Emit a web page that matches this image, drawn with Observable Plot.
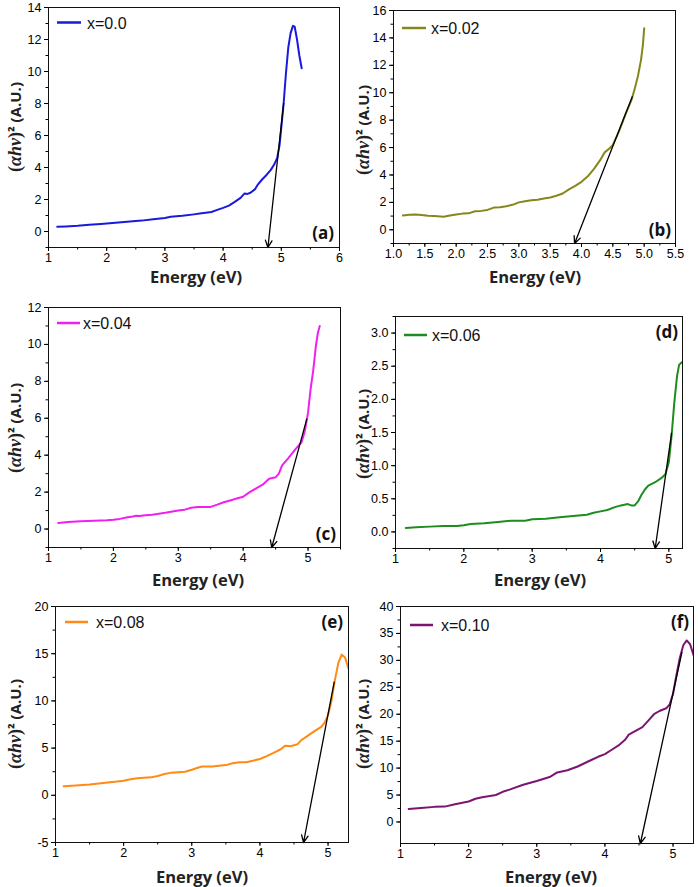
<!DOCTYPE html>
<html><head><meta charset="utf-8">
<script src="https://cdn.jsdelivr.net/npm/d3@7"></script>
<script src="https://cdn.jsdelivr.net/npm/@observablehq/plot@0.6"></script>
<style>
body{margin:0;background:#fff}
#chart{position:relative;width:698px;height:887px;overflow:hidden;background:#fff}
#chart svg{position:absolute;left:0;top:0}
</style>
</head><body><div id="chart"></div>
<script>
// ---- data: [energy eV, (αhν)^2] ----
const seriesA = [[1.15,0.30],[1.3,0.32],[1.5,0.36],[1.7,0.42],[1.9,0.47],[2.0,0.50],[2.2,0.57],[2.4,0.63],[2.6,0.68],[2.8,0.76],[3.0,0.85],[3.1,0.92],[3.3,0.98],[3.5,1.07],[3.6,1.12],[3.8,1.22],[3.9,1.35],[4.0,1.48],[4.1,1.62],[4.2,1.85],[4.3,2.10],[4.37,2.38],[4.42,2.35],[4.47,2.42],[4.55,2.65],[4.6,2.95],[4.67,3.25],[4.75,3.55],[4.82,3.85],[4.88,4.2],[4.93,4.6],[4.97,5.4],[5.0,6.5],[5.04,8.0],[5.08,9.9],[5.12,11.5],[5.16,12.4],[5.2,12.85],[5.23,12.8],[5.27,12.0],[5.31,11.0],[5.35,10.2]];
const seriesB = [[1.15,1.05],[1.25,1.1],[1.35,1.12],[1.45,1.08],[1.55,1.02],[1.65,1.0],[1.75,0.97],[1.8,0.95],[1.9,1.05],[2.0,1.12],[2.1,1.18],[2.2,1.2],[2.3,1.35],[2.4,1.38],[2.5,1.45],[2.6,1.62],[2.7,1.65],[2.8,1.72],[2.9,1.82],[3.0,2.0],[3.1,2.08],[3.2,2.15],[3.3,2.2],[3.4,2.28],[3.5,2.35],[3.6,2.48],[3.7,2.65],[3.8,2.95],[3.9,3.2],[4.0,3.5],[4.1,3.9],[4.2,4.45],[4.3,5.1],[4.37,5.65],[4.45,5.95],[4.5,6.2],[4.6,7.2],[4.7,8.4],[4.8,9.5],[4.85,10.3],[4.9,11.2],[4.95,12.4],[4.98,13.5],[5.0,14.7]];
const seriesC = [[1.15,0.33],[1.3,0.38],[1.5,0.42],[1.7,0.45],[1.9,0.47],[2.0,0.5],[2.1,0.55],[2.2,0.62],[2.3,0.68],[2.35,0.72],[2.4,0.7],[2.5,0.75],[2.6,0.78],[2.8,0.88],[3.0,1.0],[3.1,1.05],[3.2,1.15],[3.3,1.2],[3.4,1.2],[3.5,1.2],[3.6,1.32],[3.7,1.45],[3.8,1.55],[3.9,1.65],[4.0,1.75],[4.1,2.0],[4.2,2.2],[4.3,2.4],[4.4,2.72],[4.5,2.8],[4.55,3.0],[4.6,3.45],[4.7,3.85],[4.8,4.3],[4.9,4.7],[4.95,5.3],[5.0,6.3],[5.04,7.6],[5.08,8.6],[5.12,9.9],[5.15,10.6],[5.18,11.0]];
const seriesD = [[1.15,0.06],[1.3,0.07],[1.5,0.08],[1.7,0.09],[1.9,0.09],[2.0,0.1],[2.1,0.12],[2.3,0.13],[2.5,0.15],[2.7,0.17],[2.9,0.17],[3.0,0.19],[3.2,0.2],[3.4,0.22],[3.6,0.24],[3.8,0.26],[3.9,0.29],[4.0,0.31],[4.1,0.33],[4.2,0.37],[4.3,0.4],[4.4,0.42],[4.45,0.4],[4.5,0.4],[4.55,0.46],[4.6,0.56],[4.65,0.64],[4.7,0.7],[4.8,0.75],[4.9,0.82],[4.95,0.87],[5.0,1.05],[5.04,1.45],[5.08,1.95],[5.12,2.35],[5.15,2.52],[5.19,2.56]];
const seriesE = [[1.12,0.95],[1.3,1.05],[1.5,1.15],[1.7,1.3],[1.9,1.45],[2.0,1.55],[2.1,1.7],[2.2,1.8],[2.4,1.9],[2.5,2.05],[2.6,2.25],[2.7,2.4],[2.9,2.5],[3.0,2.7],[3.1,2.95],[3.15,3.05],[3.3,3.05],[3.5,3.2],[3.6,3.4],[3.7,3.5],[3.8,3.5],[4.0,3.85],[4.1,4.15],[4.2,4.5],[4.3,4.85],[4.37,5.25],[4.45,5.2],[4.55,5.4],[4.6,5.8],[4.7,6.3],[4.8,6.8],[4.9,7.25],[4.95,7.7],[5.0,8.5],[5.05,10.0],[5.1,12.2],[5.15,14.0],[5.2,14.9],[5.25,14.6],[5.3,13.4]];
const seriesF = [[1.12,2.4],[1.3,2.6],[1.5,2.8],[1.65,2.85],[1.8,3.3],[2.0,3.8],[2.1,4.3],[2.2,4.6],[2.4,5.0],[2.5,5.6],[2.6,6.0],[2.8,6.9],[3.0,7.6],[3.2,8.4],[3.3,9.2],[3.45,9.6],[3.6,10.3],[3.7,10.9],[3.8,11.5],[3.9,12.1],[4.0,12.6],[4.1,13.4],[4.2,14.2],[4.3,15.3],[4.35,16.2],[4.45,16.9],[4.55,17.6],[4.65,19.0],[4.72,20.0],[4.8,20.6],[4.9,21.1],[4.95,21.8],[5.0,23.8],[5.05,27.3],[5.1,30.5],[5.15,32.8],[5.2,33.7],[5.25,33.0],[5.3,31.0]];

// tangent arrows: [x1, y1, x2 (band gap), y2]
const arrowA = [5.04, 8.0, 4.77, -1];
const arrowB = [4.81, 9.7, 3.89, -1];
const arrowC = [4.98, 5.95, 4.44, -1];
const arrowD = [5.04, 1.49, 4.80, -0.25];
const arrowE = [5.09, 12.0, 4.64, -5];
const arrowF = [5.13, 31.5, 4.52, -4];

const names = ["x=0.0","x=0.02","x=0.04","x=0.06","x=0.08","x=0.10"];
const letters = ["(a)","(b)","(c)","(d)","(e)","(f)"];
const colors = ["#1a1adb","#86861a","#f020f0","#1e8c1e","#ff8a14","#7a1672"];

const xTicksInt = [1,2,3,4,5,6];
const xTicksB = [1.0,1.5,2.0,2.5,3.0,3.5,4.0,4.5,5.0,5.5];
const yTicksA = [0,2,4,6,8,10,12,14];
const yTicksB = [0,2,4,6,8,10,12,14,16];
const yTicksC = [0,2,4,6,8,10,12];
const yTicksD = [0,0.5,1.0,1.5,2.0,2.5,3.0];
const yTicksE = [-5,0,5,10,15,20];
const yTicksF = [0,5,10,15,20,25,30,35,40];

// ---- layout ----
const W = 698, H = 887;
const panels = [
  {series: seriesA, arrow: arrowA, xdom:[1,6], ydom:[-1,14], xt: xTicksInt, xm: d3.range(1,6.01,0.5), yt: yTicksA, ym: d3.range(-1,14.01,1),
   frame:[48,339,7,247], xl:[196,283], yl:[21,127], leg:[57,81,22.5,87,29], let:[334,239]},
  {series: seriesB, arrow: arrowB, xdom:[1,5.5], ydom:[-1,16], xt: xTicksB, xm: d3.range(1,5.51,0.25), yt: yTicksB, ym: d3.range(-1,16.01,1), xf: d=>d.toFixed(1),
   frame:[393,675,10,243], xl:[535,283], yl:[369,130], leg:[402,426,28,431,34], let:[671,236]},
  {series: seriesC, arrow: arrowC, xdom:[1,5.5], ydom:[-1,12], xt: [1,2,3,4,5], xm: d3.range(1,5.51,0.5), yt: yTicksC, ym: d3.range(-1,12.01,1),
   frame:[48,340,307,547], xl:[198,586], yl:[21,428], leg:[57,80,323,83,329], let:[336,540]},
  {series: seriesD, arrow: arrowD, xdom:[1,5.2], ydom:[-0.25,3.25], xt: [1,2,3,4,5], xm: d3.range(1,5.21,0.5), yt: yTicksD, ym: d3.range(-0.25,3.26,0.25), yf: d=>d.toFixed(1),
   frame:[395,682,316,548], xl:[540,586], yl:[369,434], leg:[404,427,335,432,341], let:[678,338]},
  {series: seriesE, arrow: arrowE, xdom:[1,5.3], ydom:[-5,20], xt: [1,2,3,4,5], xm: d3.range(1,5.31,0.5), yt: yTicksE, ym: d3.range(-5,20.01,2.5),
   frame:[55,348,606,842], xl:[202,883], yl:[21,724], leg:[65,88,622,96,628], let:[343,628]},
  {series: seriesF, arrow: arrowF, xdom:[1,5.3], ydom:[-4,40], xt: [1,2,3,4,5], xm: d3.range(1,5.31,0.5), yt: yTicksF, ym: d3.range(0,40.01,2.5),
   frame:[400,693,606,843], xl:[551,883], yl:[369,724], leg:[410,433,625,441,631], let:[689,628]}
];

const chart = document.getElementById("chart");
panels.forEach((p, i) => {
  const [L,R,T,B] = p.frame;
  const data = p.series.map(([e,v]) => ({e, v}));
  const xf = p.xf || (d => String(d));
  const yf = p.yf || (d => String(d));
  const svg = Plot.plot({
    width: W, height: H,
    marginLeft: L, marginRight: W - R, marginTop: T, marginBottom: H - B,
    x: {domain: p.xdom, label: null},
    y: {domain: p.ydom, label: null},
    style: {background: "transparent", fontFamily: "'Liberation Sans', Arial, sans-serif", fontSize: "12.5px", color: "#000", overflow: "visible"},
    marks: [
      Plot.line(data, {x: "e", y: "v", stroke: colors[i], strokeWidth: 2, clip: true}),
      Plot.arrow([p.arrow], {x1: d => d[0], y1: d => d[1], x2: d => d[2], y2: d => d[3], stroke: "#000", strokeWidth: 1.3, headLength: 9, headAngle: 50}),
      Plot.frame({stroke: "#111", strokeWidth: 1}),
      Plot.axisX(p.xt, {tickSize: 4, tickPadding: 2, tickFormat: xf, label: null}),
      Plot.axisX(p.xm, {tickSize: 2.5, tickFormat: () => "", label: null}),
      Plot.axisY(p.yt, {tickSize: 4, tickPadding: 3, tickFormat: yf, label: null}),
      Plot.axisY(p.ym, {tickSize: 2.5, tickFormat: () => "", label: null})
    ]
  });
  const s = d3.select(svg);
  // x label
  s.append("text").attr("x", p.xl[0]).attr("y", p.xl[1]).attr("text-anchor", "middle")
    .attr("font-family", "'Open Sans', sans-serif").attr("font-weight", "bold").attr("font-size", 16.5)
    .attr("fill", "#222").text("Energy (eV)");
  // y label
  const yl = s.append("text").attr("transform", `translate(${p.yl[0]},${p.yl[1]}) rotate(-90)`)
    .attr("text-anchor", "middle").attr("fill", "#222").attr("font-weight", "bold");
  yl.append("tspan").attr("font-family", "'Liberation Serif', serif").attr("font-size", 18).text("(");
  yl.append("tspan").attr("font-family", "'Liberation Serif', serif").attr("font-size", 18).attr("font-style", "italic").text("αhv");
  yl.append("tspan").attr("font-family", "'Liberation Serif', serif").attr("font-size", 18).text(")");
  yl.append("tspan").attr("font-family", "'Open Sans', sans-serif").attr("font-size", 15).text("² (A.U.)");
  // legend
  s.append("line").attr("x1", p.leg[0]).attr("x2", p.leg[1]).attr("y1", p.leg[2]).attr("y2", p.leg[2])
    .attr("stroke", colors[i]).attr("stroke-width", 2.5);
  s.append("text").attr("x", p.leg[3]).attr("y", p.leg[4]).attr("text-anchor", "start")
    .attr("font-family", "'Liberation Sans', Arial, sans-serif").attr("font-size", 16).attr("fill", "#111").text(names[i]);
  // panel letter
  s.append("text").attr("x", p.let[0]).attr("y", p.let[1]).attr("text-anchor", "end")
    .attr("font-family", "'Open Sans', sans-serif").attr("font-weight", "bold").attr("font-size", 17)
    .attr("fill", "#111").text(letters[i]);
  chart.appendChild(svg);
});
</script></body></html>
